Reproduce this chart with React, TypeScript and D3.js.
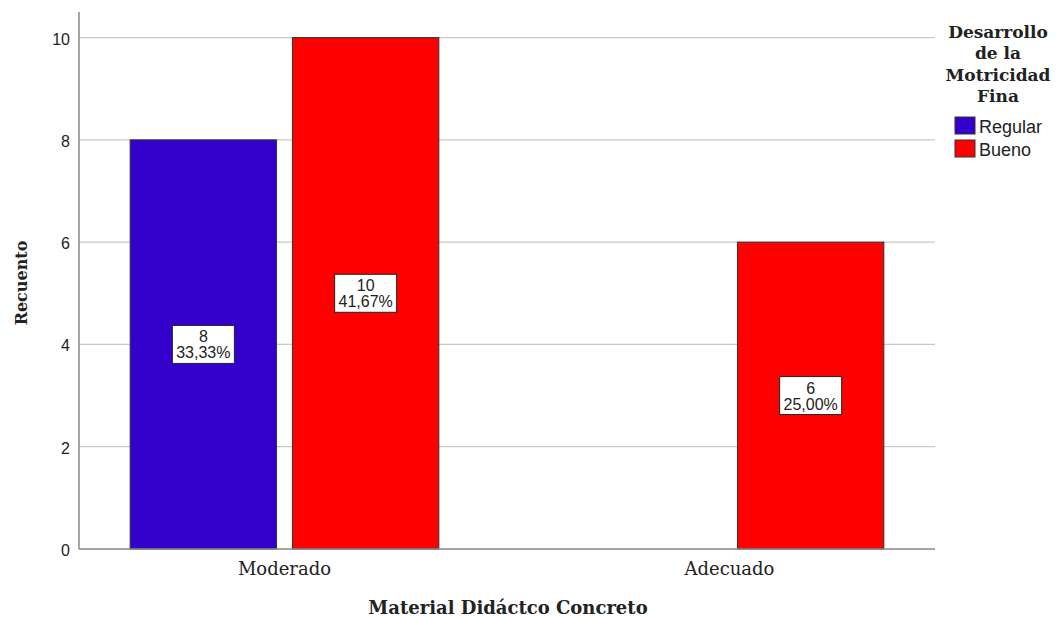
import React from "react";
import * as d3 from "d3";

const categories = ["Moderado", "Adecuado"];
const seriesNames = ["Regular", "Bueno"];
const seriesColors = ["#3300cc", "#ff0000"];
const regularValues = [8, 0];
const buenoValues = [10, 6];
const regularPct = ["33,33%", ""];
const buenoPct = ["41,67%", "25,00%"];
const yTicks = [0, 2, 4, 6, 8, 10];
const legendTitle = ["Desarrollo", "de la", "Motricidad", "Fina"];

const W = 1058;
const H = 617;
const plot = { left: 79, right: 935, top: 12, bottom: 549 };

export default function App() {
  const y = d3.scaleLinear().domain([0, 10.5]).range([plot.bottom, plot.top]);
  const x = d3.scaleBand<string>().domain(categories).range([62, 952]).padding(0);
  const inner = d3
    .scaleBand<string>()
    .domain(seriesNames)
    .range([0, x.bandwidth()])
    .paddingInner(0.098)
    .paddingOuter(0.42);

  const series = [
    { name: seriesNames[0], values: regularValues, pct: regularPct, color: seriesColors[0] },
    { name: seriesNames[1], values: buenoValues, pct: buenoPct, color: seriesColors[1] },
  ];

  const sans = "'Liberation Sans', Arial, sans-serif";
  const serif = "'DejaVu Serif', 'Liberation Serif', serif";

  return (
    <svg width={W} height={H} style={{ position: "absolute", left: 0, top: 0, background: "#fff" }}>
      {/* horizontal grid */}
      {yTicks.filter((t) => t > 0).map((t) => (
        <line key={t} x1={plot.left} x2={plot.right} y1={y(t)} y2={y(t)} stroke="#c8c8c8" strokeWidth={1.2} />
      ))}
      {/* clustered bars */}
      {series.map((s) =>
        categories.map((c, i) => {
          const v = s.values[i];
          if (!v) return null;
          const bx = (x(c) as number) + (inner(s.name) as number);
          const bw = inner.bandwidth();
          return (
            <rect key={s.name + c} x={bx} y={y(v)} width={bw} height={y(0) - y(v)} fill={s.color} stroke="#333" strokeWidth={1} />
          );
        })
      )}
      {/* count / percent boxes at bar midpoints */}
      {series.map((s) =>
        categories.map((c, i) => {
          const v = s.values[i];
          if (!v) return null;
          const cx = (x(c) as number) + (inner(s.name) as number) + inner.bandwidth() / 2;
          const cy = y(v / 2);
          return (
            <g key={"l" + s.name + c}>
              <rect x={cx - 31} y={cy - 19} width={62} height={38} fill="#fff" stroke="#222" strokeWidth={1} />
              <text x={cx} y={cy - 2} textAnchor="middle" fontFamily={sans} fontSize={16} fill="#222">{v}</text>
              <text x={cx} y={cy + 14} textAnchor="middle" fontFamily={sans} fontSize={16} fill="#222">{s.pct[i]}</text>
            </g>
          );
        })
      )}
      {/* axes */}
      <line x1={plot.left} x2={plot.left} y1={plot.top} y2={plot.bottom} stroke="#888" strokeWidth={1.5} />
      <line x1={plot.left} x2={plot.right} y1={plot.bottom} y2={plot.bottom} stroke="#888" strokeWidth={1.5} />
      {yTicks.map((t) => (
        <text key={"t" + t} x={70} y={y(t) + 7} textAnchor="end" fontFamily={sans} fontSize={16} fill="#222">{t}</text>
      ))}
      {categories.map((c) => (
        <text key={"c" + c} x={(x(c) as number) + x.bandwidth() / 2} y={575} textAnchor="middle" fontFamily={serif} fontSize={18} fill="#222">{c}</text>
      ))}
      <text x={508} y={614} textAnchor="middle" fontFamily={serif} fontSize={18} fontWeight="bold" fill="#222">Material Didáctco Concreto</text>
      <text transform={`translate(27,283) rotate(-90)`} textAnchor="middle" fontFamily={serif} fontSize={16} fontWeight="bold" fill="#222">Recuento</text>
      {/* legend */}
      {legendTitle.map((l, i) => (
        <text key={l} x={998} y={38 + i * 21.3} textAnchor="middle" fontFamily={serif} fontSize={17} fontWeight="bold" fill="#222">{l}</text>
      ))}
      {series.map((s, i) => (
        <g key={"lg" + s.name}>
          <rect x={955} y={117 + i * 23} width={20} height={17} fill={s.color} stroke="#333" strokeWidth={1} />
          <text x={979} y={133 + i * 23} fontFamily={sans} fontSize={18} fill="#222">{s.name}</text>
        </g>
      ))}
    </svg>
  );
}
